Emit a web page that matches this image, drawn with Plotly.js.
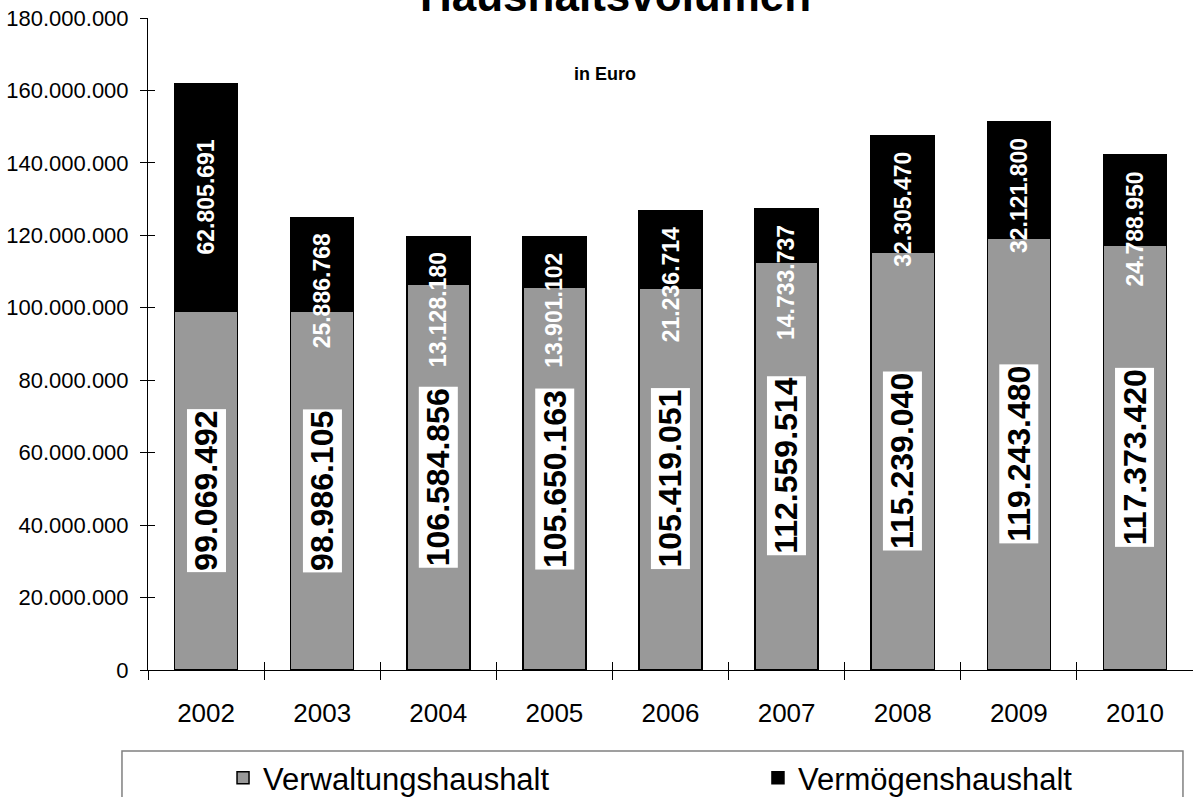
<!DOCTYPE html>
<html>
<head>
<meta charset="utf-8">
<script src="https://cdn.plot.ly/plotly-3.0.1.min.js"></script>
<style>html,body{margin:0;padding:0;background:#fff;}#chart{width:1193px;height:797px;}</style>
</head>
<body>
<div id="chart"></div>
<script>
const years = ['2002','2003','2004','2005','2006','2007','2008','2009','2010'];
const verwaltung = [99069492, 98986105, 106584856, 105650163, 105419051, 112559514, 115239040, 119243480, 117373420];
const vermoegen = [62805691, 25886768, 13128180, 13901102, 21236714, 14733737, 32305470, 32121800, 24788950];
const seriesNames = ['Verwaltungshaushalt', 'Vermögenshaushalt'];
const yTicks = [0, 20000000, 40000000, 60000000, 80000000, 100000000, 120000000, 140000000, 160000000, 180000000];

function fmt(n) { return String(n).replace(/\B(?=(\d{3})+(?!\d))/g, '.'); }

const FONT = 'Liberation Sans, Arial, sans-serif';
const W = 1193, H = 797;
const M = {l: 148, r: 0, t: 18, b: 127};
const Y_MAX = 180000000;
const pxPerUnit = (H - M.t - M.b) / Y_MAX;
const LABEL_LEN_PX = 125; // approx. length of a rotated white label

const traces = [
  {
    type: 'bar', name: seriesNames[0], x: years, y: verwaltung, legend: 'legend',
    marker: {color: '#999999', line: {color: '#000000', width: 1.5}},
    hoverinfo: 'skip'
  },
  {
    type: 'bar', name: seriesNames[1], x: years, y: vermoegen, legend: 'legend2',
    marker: {color: '#000000', line: {color: '#000000', width: 1.5}},
    hoverinfo: 'skip'
  },
  {
    type: 'scatter', x: years, y: verwaltung, xaxis: 'x2', yaxis: 'y2',
    mode: 'none', showlegend: false, hoverinfo: 'skip'
  }
];

const annotations = [];
years.forEach((yr, i) => {
  // category axis: position by category index
  annotations.push({
    x: i, y: verwaltung[i] / 2, xref: 'x', yref: 'y',
    text: '<b>' + fmt(verwaltung[i]) + '</b>', textangle: -90,
    font: {family: FONT, size: 32, color: '#000000'},
    bgcolor: '#ffffff', borderpad: 1, showarrow: false
  });
  const segPx = vermoegen[i] * pxPerUnit;
  const fits = segPx > LABEL_LEN_PX + 40;
  annotations.push(fits ? {
    x: i, y: verwaltung[i] + vermoegen[i] / 2, xref: 'x', yref: 'y',
    text: '<b>' + fmt(vermoegen[i]) + '</b>', textangle: -90,
    font: {family: FONT, size: 23, color: '#ffffff'}, showarrow: false
  } : {
    x: i, y: verwaltung[i] + vermoegen[i], xref: 'x', yref: 'y', yanchor: 'top', yshift: -14,
    text: '<b>' + fmt(vermoegen[i]) + '</b>', textangle: -90,
    font: {family: FONT, size: 23, color: '#ffffff'}, showarrow: false
  });
});
annotations.push({
  xref: 'paper', yref: 'paper', x: 0.4469, y: 1, xanchor: 'center', yanchor: 'bottom', yshift: -4,
  text: '<b>Haushaltsvolumen</b>', font: {family: FONT, size: 44, color: '#000000'}, showarrow: false
});
annotations.push({
  xref: 'paper', yref: 'paper', x: 0.4373, y: 1, xanchor: 'center', yanchor: 'bottom', yshift: -68,
  text: '<b>in Euro</b>', font: {family: FONT, size: 18, color: '#000000'}, showarrow: false
});

const legendStyle = {
  orientation: 'h', xanchor: 'left', y: -0.1242, yanchor: 'top',
  font: {family: FONT, size: 31, color: '#000000'}, bgcolor: 'rgba(0,0,0,0)', borderwidth: 0
};

const layout = {
  width: W, height: H,
  margin: {l: M.l, r: M.r, t: M.t, b: M.b, autoexpand: false},
  paper_bgcolor: '#ffffff', plot_bgcolor: '#ffffff',
  font: {family: FONT, color: '#000000'},
  barmode: 'stack', bargap: 0.457,
  showlegend: true,
  legend: Object.assign({x: 0.0718}, legendStyle),
  legend2: Object.assign({x: 0.5837}, legendStyle),
  xaxis: {
    type: 'category', range: [-0.5, 8.5], showline: true, linecolor: '#000000', linewidth: 1,
    ticks: 'outside', tickson: 'boundaries', ticklen: 9, tickcolor: '#000000', tickwidth: 1,
    ticklabelstandoff: 20, tickfont: {family: FONT, size: 26, color: '#000000'},
    showgrid: false, zeroline: false, fixedrange: true
  },
  yaxis: {
    range: [0, Y_MAX], tickvals: yTicks, ticktext: yTicks.map(fmt),
    showline: true, linecolor: '#000000', linewidth: 1,
    ticks: 'outside', ticklen: 7, tickcolor: '#000000', tickwidth: 1,
    ticklabelstandoff: 7, tickfont: {family: FONT, size: 22, color: '#000000'},
    showgrid: false, zeroline: false, fixedrange: true
  },
  xaxis2: {
    type: 'category', overlaying: 'x', anchor: 'y2', range: [-0.5, 8.5],
    ticks: 'inside', tickson: 'boundaries', ticklen: 8, tickcolor: '#000000', tickwidth: 1,
    showticklabels: false, showline: false, showgrid: false, zeroline: false, fixedrange: true
  },
  yaxis2: {
    overlaying: 'y', anchor: 'x2', side: 'left', range: [0, Y_MAX], tickvals: yTicks,
    ticks: 'inside', ticklen: 7, tickcolor: '#000000', tickwidth: 1,
    showticklabels: false, showline: false, showgrid: false, zeroline: false, fixedrange: true
  },
  shapes: [{
    type: 'rect', xref: 'paper', yref: 'paper',
    x0: -0.0249, x1: 0.9904, y0: -0.1242, y1: -0.25,
    line: {color: '#808080', width: 1.5}, fillcolor: 'rgba(0,0,0,0)', layer: 'below'
  }],
  annotations: annotations
};

Plotly.newPlot('chart', traces, layout, {displayModeBar: false, staticPlot: true});
</script>
</body>
</html>
